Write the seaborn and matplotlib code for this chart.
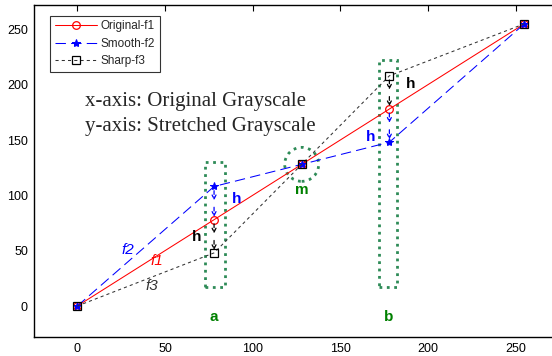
import matplotlib
matplotlib.use("Agg")
import matplotlib.pyplot as plt
import seaborn as sns
import pandas as pd
from matplotlib.patches import Rectangle, Ellipse

# ---- data ----
x_vals = [0, 78, 128, 178, 255]
f1_vals = [0, 78, 128, 178, 255]
f2_vals = [0, 108, 128, 148, 255]
f3_vals = [0, 48, 128, 208, 255]
series_names = ["Original-f1", "Smooth-f2", "Sharp-f3"]
x_ticks = [0, 50, 100, 150, 200, 250]
y_ticks = [0, 50, 100, 150, 200, 250]

sns.set_style("white")
plt.rcParams["font.family"] = ["Liberation Sans", "DejaVu Sans"]

fig = plt.figure(figsize=(5.52, 3.56), dpi=100)
ax = fig.add_axes([33.5 / 552, 19 / 356, (585.7 - 33.5) / 552, 332 / 356])

df = pd.DataFrame({"x": x_vals, "f1": f1_vals, "f2": f2_vals, "f3": f3_vals})

sns.lineplot(data=df, x="x", y="f1", ax=ax, color="red", lw=0.75, marker="o",
             markersize=5.5, markerfacecolor="none", markeredgecolor="red",
             markeredgewidth=0.9, label=series_names[0], sort=False)
sns.lineplot(data=df, x="x", y="f2", ax=ax, color="blue", lw=0.75, marker="*",
             markersize=6, markerfacecolor="blue", markeredgecolor="blue",
             dashes=False, label=series_names[1], sort=False)
sns.lineplot(data=df, x="x", y="f3", ax=ax, color="#333333", lw=0.75, marker="s",
             markersize=5.5, markerfacecolor="none", markeredgecolor="black",
             markeredgewidth=0.9, label=series_names[2], sort=False)
lines = ax.get_lines()
lines[1].set_dashes([10, 5])
lines[2].set_dashes([3, 3])

ax.set_xlim(-25, 290)
ax.set_ylim(-28, 272)
ax.set_xticks(x_ticks)
ax.set_yticks(y_ticks)
ax.set_xlabel("")
ax.set_ylabel("")
ax.tick_params(direction="in", top=True, right=True, length=4, width=0.8,
               labelsize=9, pad=4, colors="black")
for s in ax.spines.values():
    s.set_color("black")
    s.set_linewidth(1.0)

leg = ax.legend(loc="upper left", bbox_to_anchor=(50 / 552, 1 - 15.7 / 356),
                bbox_transform=fig.transFigure, borderaxespad=0, fontsize=8.5,
                handlelength=3.6, labelspacing=0.45, frameon=True, fancybox=False,
                edgecolor="black", borderpad=0.4, handletextpad=0.3)
leg.get_frame().set_linewidth(0.8)

# explanatory text
ax.text(4.6, 184.9, "x-axis: Original Grayscale", family="Liberation Serif",
        fontsize=15, va="center", ha="left")
ax.text(4.6, 162.3, "y-axis: Stretched Grayscale", family="Liberation Serif",
        fontsize=15, va="center", ha="left")

green = "#2e8b57"
# highlight rectangles
ax.add_patch(Rectangle((73, 17), 11.4, 113, fill=False, ls=":", lw=2, ec=green))
ax.add_patch(Rectangle((172, 17), 10.6, 205.6, fill=False, ls=":", lw=2, ec=green))
ax.add_patch(Ellipse((128, 128), 19.4, 30.7, fill=False, ls=":", lw=2, ec=green))

ax.text(77.6, -9.5, "a", color="green", fontsize=11, fontweight="bold", ha="center", va="center")
ax.text(177.8, -9.5, "b", color="green", fontsize=11, fontweight="bold", ha="center", va="center")
ax.text(127.8, 104.4, "m", color="green", fontsize=11, fontweight="bold", ha="center", va="center")

ax.text(67.9, 62.8, "h", color="black", fontsize=11, fontweight="bold", ha="center", va="center")
ax.text(90.7, 96.3, "h", color="blue", fontsize=11, fontweight="bold", ha="center", va="center")
ax.text(190.4, 200.4, "h", color="black", fontsize=11, fontweight="bold", ha="center", va="center")
ax.text(167.3, 152.6, "h", color="blue", fontsize=11, fontweight="bold", ha="center", va="center")

ax.text(29, 50.2, "f2", color="blue", fontsize=11, style="italic", ha="center", va="center")
ax.text(45.1, 41.1, "f1", color="red", fontsize=11, style="italic", ha="center", va="center")
ax.text(42.7, 18.5, "f3", color="#333333", fontsize=11, style="italic", ha="center", va="center")


def varrow(x, y0, y1, color, ls):
    mid = (y0 + y1) / 2
    for a, b in [(y0, mid), (mid, y1)]:
        ax.annotate("", xy=(x, b), xytext=(x, a),
                    arrowprops=dict(arrowstyle="->", color=color, lw=0.9,
                                    linestyle=ls, shrinkA=3, shrinkB=2,
                                    mutation_scale=7))


varrow(x_vals[1], f2_vals[1], f1_vals[1], "blue", (0, (3, 2)))
varrow(x_vals[1], f1_vals[1], f3_vals[1], "black", (0, (3, 2)))
varrow(x_vals[3], f3_vals[3], f1_vals[3], "black", (0, (3, 2)))
varrow(x_vals[3], f1_vals[3], f2_vals[3], "blue", (0, (3, 2)))

fig.savefig("out.png", dpi=100)
